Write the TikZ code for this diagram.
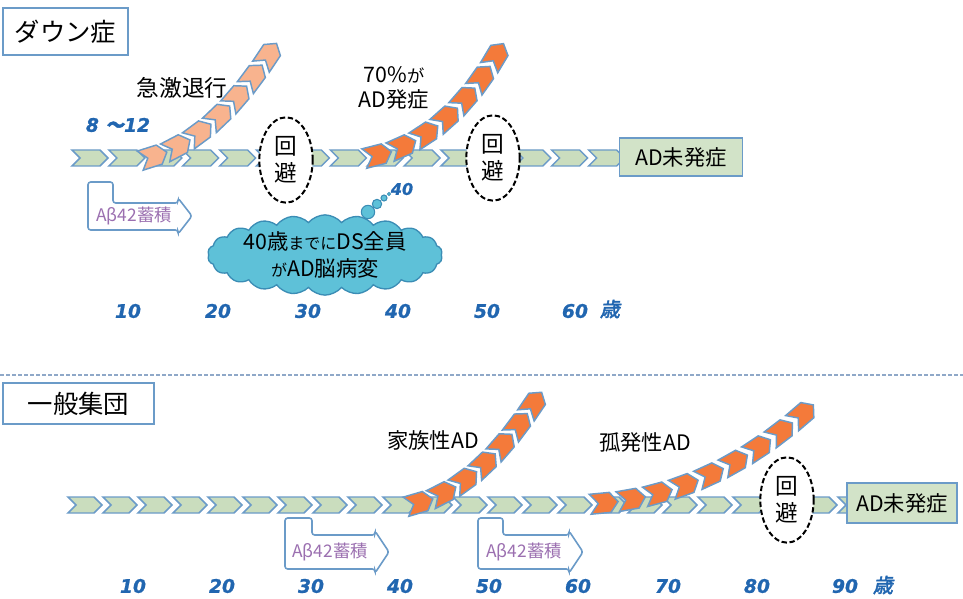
\documentclass[tikz,border=0pt]{standalone}
\usepackage{fontspec}
\setmainfont{Noto Sans CJK JP}
\newfontfamily\agefont[FakeBold=1]{DejaVu Sans}
\newfontfamily\agekanji[FakeBold=2.5,FakeSlant=0.2]{Noto Sans CJK JP}
\usetikzlibrary{shapes.geometric,shapes.symbols,decorations.markings}
\definecolor{chevline}{HTML}{6B9BC8}
\definecolor{rowfill}{HTML}{CADDBE}
\definecolor{boxfill}{HTML}{D2E3C8}
\definecolor{cloudfill}{HTML}{5EC1D8}
\definecolor{cloudline}{HTML}{3B8DB5}
\definecolor{orangeA}{HTML}{F47A3A}
\definecolor{salmonA}{HTML}{F8B38E}
\definecolor{abtext}{HTML}{9B6FB0}
\definecolor{ageblue}{HTML}{2166B0}
\definecolor{sepcol}{HTML}{8FA8C8}
\newcommand\arrchev[1]{\path[draw=chevline,line width=1.1pt,fill=#1] (-14,-10) -- (6,-10) -- (14,0) -- (6,10) -- (-14,10) -- (-6,0) -- cycle;}
\tikzset{
  rowline/.style={draw=chevline, line width=1.1pt, fill=rowfill},
  pics/rowchevA/.style={code={\path[rowline] (0,-8) -- (28,-8) -- (36,0) -- (28,8) -- (0,8) -- (8,0) -- cycle;}},
  pics/rowchevB/.style={code={\path[rowline] (0,-8) -- (26,-8) -- (34,0) -- (26,8) -- (0,8) -- (8,0) -- cycle;}},
  titlebox/.style={draw=chevline, line width=1.2pt, fill=white, inner sep=0pt, font=\fontsize{19}{21}\selectfont},
  adbox/.style={draw=chevline, line width=1.2pt, fill=boxfill, inner sep=0pt, font=\fontsize{16}{18}\selectfont},
  avoid/.style={ellipse, draw=black, dash pattern=on 4pt off 2pt, line width=1.5pt, fill=white, inner sep=0pt,
    minimum width=40pt, minimum height=64pt, align=center, font=\fontsize{17}{20}\selectfont},
  abox/.style={draw=chevline, line width=1.2pt, fill=white, rounded corners=2pt},
  abtxt/.style={text=abtext, font=\fontsize{13}{15}\selectfont, inner sep=0pt},
  lab/.style={font=\fontsize{16}{19}\selectfont, inner sep=0pt, align=center},
  age/.style={text=ageblue, font=\agefont\bfseries\itshape\fontsize{14}{16}\selectfont, inner sep=0pt},
  agek/.style={text=ageblue, font=\agekanji\fontsize{15}{16}\selectfont, inner sep=0pt},
  sepline/.style={draw=sepcol, line width=1.5pt, dash pattern=on 3pt off 1.5pt},
  chain/.style={decorate, decoration={markings, mark=between positions #1 with {\arrchev{\chaincol}}}},
}
\begin{document}
\begin{tikzpicture}[x=0.75pt,y=-0.75pt]
\useasboundingbox (0,0) rectangle (963,599);
% separator
\coordinate (sepL) at (0,375);
\coordinate (sepR) at (963,375);
\path[sepline] (sepL) -- (sepR);
% title boxes
\node[titlebox, minimum width=93.75pt, minimum height=35pt] (tDS) at (65.5,31.5) {ダウン症};
\node[titlebox, minimum width=113pt, minimum height=31pt] (tGP) at (78.5,403.5) {一般集団};
% top row chevrons
\foreach \i in {0,...,14} \pic at ({72+36.9*\i},158) {rowchevA};
% bottom row chevrons
\foreach \i in {0,...,22} \pic at ({68+35*\i},505) {rowchevB};
% AD boxes
\node[adbox, minimum width=92pt, minimum height=28.5pt] (adT) at (681,157) {AD未発症};
\node[adbox, minimum width=82.5pt, minimum height=30pt] (adB) at (902,503) {AD未発症};
% avoid ovals
\node[avoid] (av1) at (286,160) {回\\避};
\node[avoid] (av2) at (493,158) {回\\避};
\node[avoid] (av3) at (787,500) {回\\避};
% orange chains
\def\chaincol{salmonA}
\path[chain={0.076 and 0.93 step 0.142}] (140,160) .. controls (200,147) and (240,100) .. (276,44);
\def\chaincol{orangeA}
\path[chain={0.076 and 0.93 step 0.142}] (364,158) .. controls (430,147) and (472,100) .. (503,44);
\path[chain={0.076 and 0.93 step 0.142}] (406,506) .. controls (470,494) and (510,440) .. (541,393);
\path[chain={0.057 and 0.95 step 0.111}] (590,504) .. controls (680,499) and (750,462) .. (813,405);
% labels
\node[lab, font=\fontsize{17}{19}\selectfont] (lq) at (182,88) {急激退行};
\node[lab] (l70) at (394,88) {70\%{\fontsize{13}{15}\selectfont が}\\AD発症};
\node[lab] (lfam) at (433,440) {家族性AD};
\node[lab] (lspo) at (645,442) {孤発性AD};
\node[age] (a812) at (118,125) {8 {\agekanji ～}12};
% A beta boxes
\path[abox] (88,182) -- (113,182) -- (113,203) -- (178,203) -- (178,198) -- (192,216) -- (178,234) -- (178,230) -- (88,230) -- cycle;
\node[abtxt] (ab1) at (134,216) {Aβ42蓄積};
\path[abox] (285,518) -- (312,518) -- (312,535) -- (375,535) -- (375,531) -- (389,552) -- (375,573) -- (375,569) -- (285,569) -- cycle;
\node[abtxt] (ab2) at (330,552) {Aβ42蓄積};
\path[abox] (478,518) -- (503,518) -- (503,535) -- (569,535) -- (569,531) -- (583,552) -- (569,573) -- (569,569) -- (478,569) -- cycle;
\node[abtxt] (ab3) at (524,552) {Aβ42蓄積};
% cloud
\node[cloud, cloud puffs=22, cloud puff arc=100, cloud ignores aspect, draw=cloudline, line width=1pt, fill=cloudfill,
  minimum width=176pt, minimum height=58pt, inner sep=0pt, align=center, font=\fontsize{16}{20}\selectfont] (cl) at (325,255)
  {40歳{\fontsize{12}{14}\selectfont までに}DS全員\\{\fontsize{12}{14}\selectfont が}AD脳病変};
\node[circle, draw=cloudline, fill=cloudfill, line width=0.8pt, minimum size=10pt, inner sep=0pt] (b1) at (368,212) {};
\node[circle, draw=cloudline, fill=cloudfill, line width=0.8pt, minimum size=7pt, inner sep=0pt] (b2) at (377,204) {};
\node[circle, draw=cloudline, fill=cloudfill, line width=0.8pt, minimum size=4.5pt, inner sep=0pt] (b3) at (384,198) {};
\node[circle, draw=cloudline, fill=cloudfill, line width=0.6pt, minimum size=2.5pt, inner sep=0pt] (b4) at (389,194) {};
\node[age, font=\agefont\bfseries\itshape\fontsize{12}{14}\selectfont] (a40s) at (402,189) {40};
% ages top
\foreach \v/\x in {10/128,20/218,30/308,40/398,50/487,60/575}
  \node[age] (at\v) at (\x,311) {\v};
\node[agek] (atk) at (610,309) {歳};
% ages bottom
\foreach \v/\x in {10/133,20/222,30/311,40/400,50/489,60/578,70/668,80/757,90/845}
  \node[age] (ab\v) at (\x,586) {\v};
\node[agek] (abk) at (883,585) {歳};
\end{tikzpicture}
\end{document}
